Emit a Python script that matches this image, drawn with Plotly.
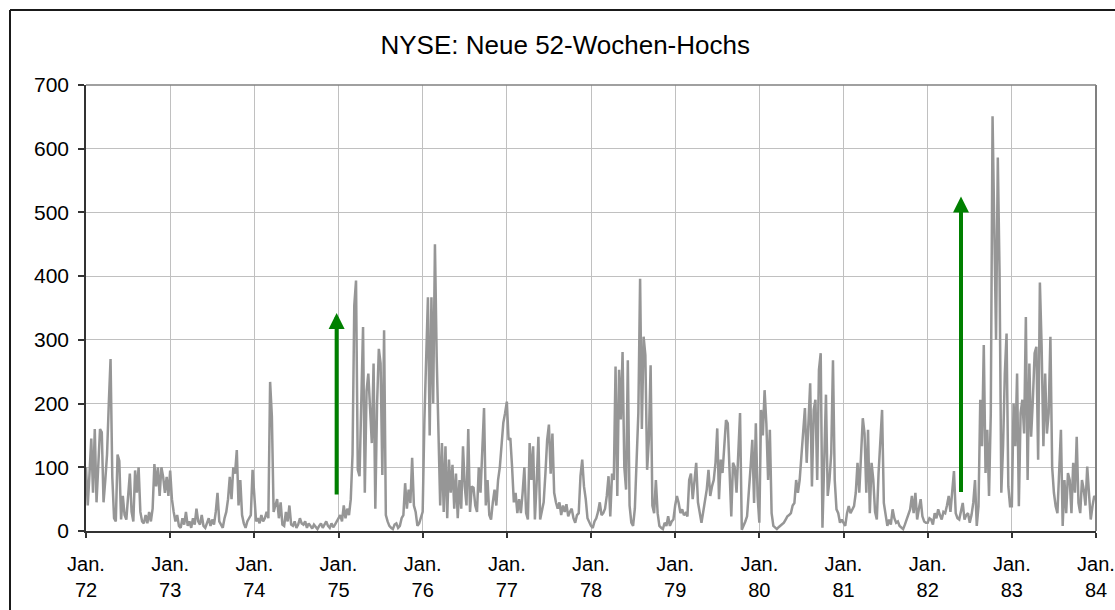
import plotly.graph_objects as go

# ---- data (~48 samples per year) ----
years = list(range(1972, 1984))
v1972 = [100,40,90,145,60,160,45,110,160,155, 45,80,120,200,270,85,20,15,120,110,
         18,55,25,18,60,90,30,15,95,60, 100,30,15,12,25,12,30,15,35,105, 70,100,55,100,85,60,85,55]
v1973 = [95,50,30,15,25,8,5,20,10,30, 8,15,5,20,10,35,15,10,25,8,
         5,12,20,8,18,10,30,60,15,10, 5,20,30,50,85,50,100,90,127,40, 80,25,12,5,15,20,25,96]
v1974 = [60,15,20,12,25,15,20,30,20,234, 180,30,40,50,20,45,10,8,30,15,
         40,10,8,15,5,10,20,12,10,15, 5,12,8,4,10,6,3,8,12,5, 10,15,8,5,12,6,10,15]
v1975 = [20,25,15,40,20,35,25,50,120,354, 393,96,86,200,320,60,220,247,180,138,
         263,35,200,286,263,88,315,25,15,8, 5,3,10,12,5,8,20,25,75,35, 65,44,115,40,30,8,12,20]
v1976 = [30,175,290,367,150,367,200,450,273,165, 40,138,30,133,20,112,60,104,35,90,
         20,80,35,133,70,40,160,30,70,68, 40,30,100,60,120,193,40,80,25,18, 45,65,40,80,100,133,170,185]
v1977 = [203,143,146,100,45,60,28,50,28,60, 100,28,18,138,80,133,18,75,148,18,
         30,45,90,143,167,90,153,60,45,35, 45,25,40,30,42,23,30,35,20,13, 25,28,86,112,70,50,20,13]
v1978 = [8,5,15,20,30,45,25,28, 35,55,86,23,90,80,258,55,253,175,
         281,100,65,268,40,13,8,35,100,185, 396,160,305,276,96,143,260,40,28,80, 28,8,5,3,13,8,23,8,15,18]
v1979 = [40,55,44,28,34,25,28,23,80,90, 50,80,107,45,25,13,30,50,65,96,
         55,70,80,107,161,50,112,91,128,174, 169,80,23,107,100,60,133,185,2,8, 15,23,55,100,143,44,169,55]
v1980 = [13,190,150,221,169,80,159,28,8,5, 3,6,8,10,13,18,23,25,28,40,
         44,80,60,80,117,169,193,107,164,232, 70,190,206,80,253,279,5,133,214,55, 80,122,268,80,34,28,13,18]
v1981 = [13,8,28,39,28,34,39,60,107,60,133,177, 153,60,159,28,107,80,30,18,91,153,
         190,44,23,8,18,10,34,20,13,15, 8,5,3,10,18,25,34,55,28,60, 18,35,50,23,15,13]
v1982 = [13,20,18,10,28,20,34,25,18,30, 28,40,55,30,60,94,28,20,18,30,
         44,18,25,28,13,25,44,80,8,39, 206,133,292,91,159,55,185,651,456,300, 586,404,60,133,247,310,70,39]
v1983 = [39,200,133,247,39,185,206,153,336,80, 263,148,206,279,289,112,390,289,133,247,
         153,185,305,100,60,39,28,96,159,8, 80,28,91,80,28,107,60,148,44,28, 80,65,40,101,60,18,39,55]
end_value = [50]  # value at Jan. 84

tick_years = list(range(1972, 1985))
tick_labels = ["Jan.<br>" + str(y)[2:] for y in tick_years]
y_ticks = [0, 100, 200, 300, 400, 500, 600, 700]

# green arrows (x in years, tail/tip values)
arrow_x = [1974.978, 1982.396]
arrow_tail = [55, 59]
arrow_tip = [342, 525]

series = [v1972, v1973, v1974, v1975, v1976, v1977, v1978, v1979, v1980, v1981, v1982, v1983]
xs, ys = [], []
for yr, vals in zip(years, series):
    n = len(vals)
    for k, v in enumerate(vals):
        xs.append(yr + k / n)
        ys.append(v)
xs.append(1984)
ys.append(end_value[0])

FONT = "Liberation Sans, Arial, sans-serif"
W, H = 1115, 610

fig = go.Figure()
fig.add_trace(go.Scatter(x=xs, y=ys, mode="lines",
                         line=dict(color="#969696", width=2.5),
                         hoverinfo="skip", showlegend=False))

for ax_, t_, h_ in zip(arrow_x, arrow_tail, arrow_tip):
    fig.add_annotation(x=ax_, y=h_, ax=ax_, ay=t_, xref="x", yref="y",
                       axref="x", ayref="y", text="", showarrow=True,
                       arrowhead=2, arrowsize=0.8, arrowwidth=4,
                       arrowcolor="#008000", standoff=0)

# outer chart frame (left and top edges visible)
fx = (10 - 86) / 1010
fy = (531 - 10) / 446
fig.add_shape(type="line", xref="paper", yref="paper", x0=fx, x1=fx, y0=-0.3, y1=fy,
              line=dict(color="#1a1a1a", width=2))
fig.add_shape(type="line", xref="paper", yref="paper", x0=fx, x1=1.1, y0=fy, y1=fy,
              line=dict(color="#1a1a1a", width=2))
# plot-area border top / right
fig.add_shape(type="line", xref="paper", yref="paper", x0=0, x1=1, y0=1, y1=1,
              line=dict(color="#808080", width=1.5))
fig.add_shape(type="line", xref="paper", yref="paper", x0=1, x1=1, y0=0, y1=1,
              line=dict(color="#808080", width=2))

fig.update_layout(
    width=W, height=H,
    margin=dict(l=86, r=19, t=85, b=79, autoexpand=False),
    paper_bgcolor="white", plot_bgcolor="white",
    font=dict(family=FONT, color="#000000", size=20),
    title=dict(text="NYSE: Neue 52-Wochen-Hochs", x=0.4745, xref="paper", xanchor="center",
               y=1 - 45 / H, yref="container", yanchor="middle",
               font=dict(family=FONT, size=26, color="#000000")),
    showlegend=False,
)
fig.update_xaxes(range=[1972, 1984], tickmode="array", tickvals=tick_years, ticktext=tick_labels,
                 showgrid=True, gridcolor="#c0c0c0", gridwidth=1, zeroline=False,
                 showline=True, linecolor="#333333", linewidth=1.5,
                 ticks="outside", ticklen=5, tickcolor="#333333", tickwidth=1.5,
                 tickfont=dict(family=FONT, size=20), tickangle=0,
                 automargin=False, ticklabelstandoff=9)
fig.update_yaxes(range=[0, 700], tickmode="array", tickvals=y_ticks,
                 showgrid=True, gridcolor="#c0c0c0", gridwidth=1, zeroline=False,
                 showline=True, linecolor="#333333", linewidth=1.5,
                 ticks="outside", ticklen=6, tickcolor="#333333", tickwidth=1.5,
                 tickfont=dict(family=FONT, size=21), ticklabelstandoff=5,
                 automargin=False)

fig.write_html("out.html", config={"displayModeBar": False},
               post_script="document.body.style.margin='0';document.body.style.overflow='hidden';")
